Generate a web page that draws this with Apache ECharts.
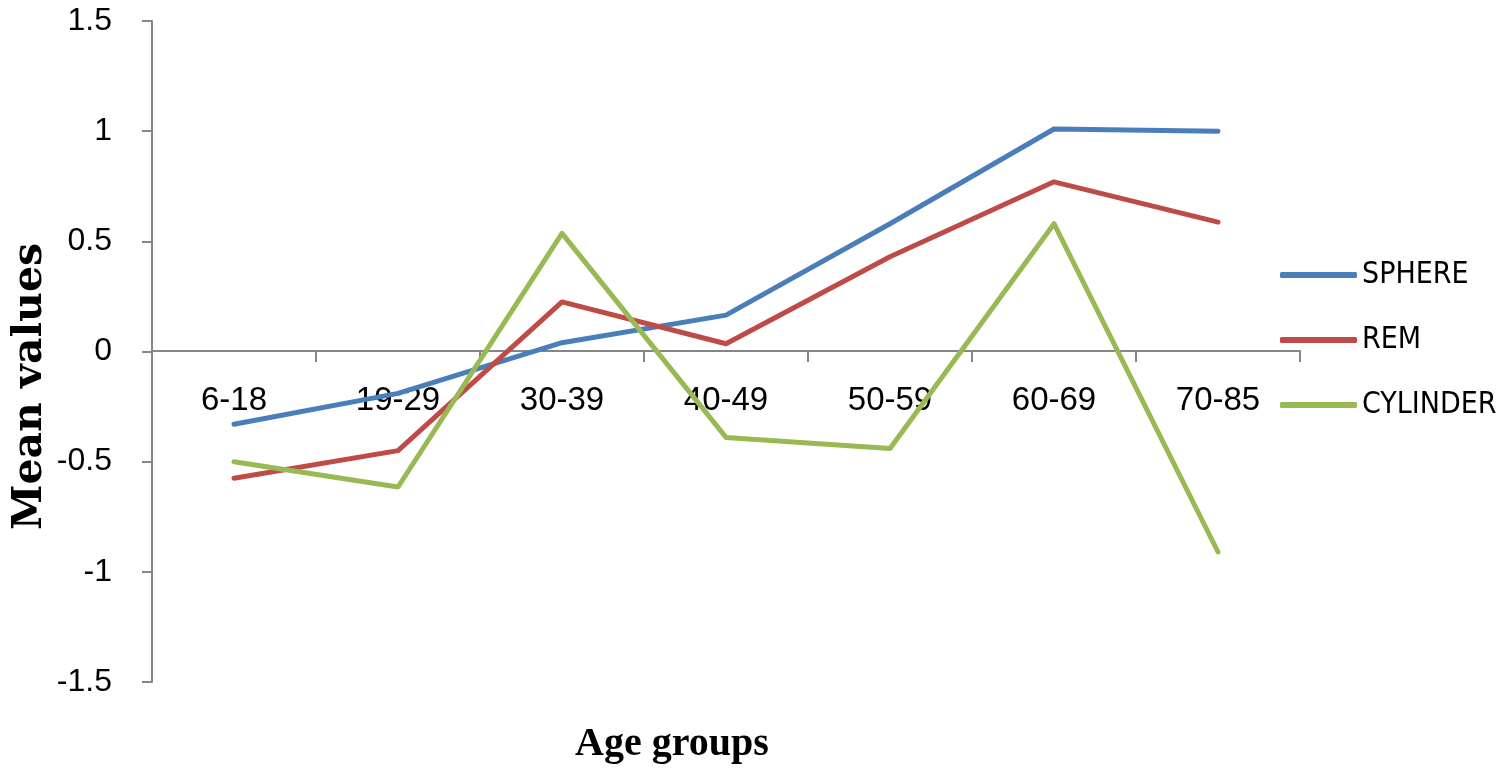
<!DOCTYPE html>
<html>
<head>
<meta charset="utf-8">
<script src="https://cdn.jsdelivr.net/npm/echarts@6/dist/echarts.min.js"></script>
<style>
html,body{margin:0;padding:0;background:#fff;}
#chart{width:1508px;height:773px;}
</style>
</head>
<body>
<div id="chart"></div>
<script>
const categories = ['6-18','19-29','30-39','40-49','50-59','60-69','70-85'];
const sphere   = [-0.33, -0.19, 0.04, 0.165, 0.58, 1.01, 1.0];
const rem      = [-0.575, -0.45, 0.225, 0.035, 0.43, 0.77, 0.587];
const cylinder = [-0.5, -0.615, 0.536, -0.39, -0.44, 0.58, -0.91];
const yTicks = {min: -1.5, max: 1.5, interval: 0.5};

const chart = echarts.init(document.getElementById('chart'));
const axisGray = '#868686';
const lineW = 5;
chart.setOption({
  animation: false,
  backgroundColor: '#ffffff',
  grid: {left: 152, top: 21, right: 208, bottom: 91, containLabel: false},
  legend: {
    orient: 'vertical',
    left: 1280,
    top: 259,
    padding: 0,
    itemWidth: 77,
    itemHeight: 6,
    itemGap: 33,
    icon: 'roundRect',
    textStyle: {fontFamily: "'DejaVu Sans Condensed','Liberation Sans Narrow',Roboto,sans-serif", fontSize: 30, color: '#000', lineHeight: 32},
    data: ['SPHERE','REM','CYLINDER']
  },
  xAxis: {
    type: 'category',
    data: categories,
    boundaryGap: true,
    offset: -331,
    axisLine: {show: true, onZero: false, lineStyle: {color: axisGray, width: 2}},
    axisTick: {show: true, length: 11, inside: false, lineStyle: {color: axisGray, width: 2}},
    axisLabel: {margin: 33, fontFamily: "'Liberation Sans',sans-serif", fontSize: 33, color: '#000'},
    splitLine: {show: false}
  },
  yAxis: {
    type: 'value',
    min: yTicks.min, max: yTicks.max, interval: yTicks.interval,
    axisLine: {show: true, lineStyle: {color: axisGray, width: 2}},
    axisTick: {show: true, length: 10, lineStyle: {color: axisGray, width: 2}},
    axisLabel: {margin: 40, fontFamily: "'Liberation Sans',sans-serif", fontSize: 32, color: '#000'},
    splitLine: {show: false}
  },
  graphic: [
    {type: 'text', left: 575, top: 725, style: {text: 'Age groups', font: "bold 40px 'Liberation Serif', serif", fill: '#000'}},
    {type: 'text', x: 10, y: 530, rotation: Math.PI/2, style: {text: 'Mean values', font: "bold 41px 'DejaVu Serif', serif", fill: '#000', textVerticalAlign: 'top'}}
  ],
  series: [
    {name: 'SPHERE', type: 'line', data: sphere, symbol: 'none', lineStyle: {width: lineW, color: '#4a7ebb', cap: 'round', join: 'round'}, itemStyle: {color: '#4a7ebb'}},
    {name: 'REM', type: 'line', data: rem, symbol: 'none', lineStyle: {width: lineW, color: '#be4b48', cap: 'round', join: 'round'}, itemStyle: {color: '#be4b48'}},
    {name: 'CYLINDER', type: 'line', data: cylinder, symbol: 'none', lineStyle: {width: lineW, color: '#98b954', cap: 'round', join: 'round'}, itemStyle: {color: '#98b954'}}
  ]
});
</script>
</body>
</html>
